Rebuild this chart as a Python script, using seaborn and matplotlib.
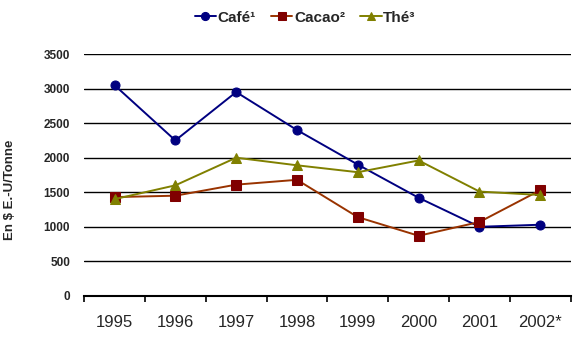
import matplotlib
matplotlib.use("Agg")
import matplotlib.pyplot as plt
import seaborn as sns
import pandas as pd
from matplotlib.ticker import FixedLocator

years = ['1995', '1996', '1997', '1998', '1999', '2000', '2001', '2002*']
cafe = [3050, 2250, 2950, 2400, 1900, 1420, 1000, 1030]
cacao = [1430, 1450, 1610, 1680, 1140, 870, 1070, 1530]
the = [1400, 1600, 2000, 1890, 1790, 1960, 1510, 1460]

series_names = ['Café¹', 'Cacao²', 'Thé³']
line_colors = ['#000080', '#993300', '#808000']
marker_colors = ['#000080', '#800000', '#808000']
markers = ['o', 's', '^']

sns.set_style('white')
plt.rcParams['font.family'] = ['Liberation Sans', 'DejaVu Sans']

fig = plt.figure(figsize=(5.8, 3.51), dpi=100)
ax = fig.add_axes([0.145, 0.157, 0.839, 0.689])

x = list(range(len(years)))
for name, vals, lc, mc, m in zip(series_names, [cafe, cacao, the], line_colors, marker_colors, markers):
    df = pd.DataFrame({'x': x, 'y': vals})
    sns.lineplot(data=df, x='x', y='y', ax=ax, color=lc, linewidth=1.4,
                 marker=m, markersize=6.5, markerfacecolor=mc, markeredgecolor=mc,
                 label=name)

ax.set_xlim(-0.5, len(years) - 0.5)
ax.set_ylim(0, 3500)
ax.set_yticks(range(0, 3501, 500))
ax.yaxis.grid(True, color='black', linewidth=1)
ax.set_axisbelow(True)
ax.set_xticks(x)
ax.set_xticklabels(years, fontsize=12)
ax.xaxis.set_minor_locator(FixedLocator([i - 0.5 for i in range(len(years) + 1)]))
ax.tick_params(axis='x', which='major', length=0, pad=14)
ax.tick_params(axis='x', which='minor', length=4, width=1.2, color='black', direction='out', bottom=True)
ax.tick_params(axis='y', length=0, pad=10, labelsize=8.5)
for lab in ax.get_yticklabels():
    lab.set_fontweight('bold')

for s in ['top', 'right', 'left']:
    ax.spines[s].set_visible(False)
ax.spines['bottom'].set_color('black')
ax.spines['bottom'].set_linewidth(1.5)

ax.set_xlabel('')
ax.set_ylabel('En $ E.-U/Tonne', fontsize=9.5, fontweight='bold')
ax.yaxis.set_label_coords(-0.14, 0.44)

leg = ax.legend(loc='center', bbox_to_anchor=(0.454, 1.15), ncol=3, frameon=False,
                prop={'weight': 'bold', 'size': 11}, handlelength=1.4, handletextpad=0.1,
                columnspacing=1.0, markerscale=0.9)

fig.savefig('out.png', dpi=100)
